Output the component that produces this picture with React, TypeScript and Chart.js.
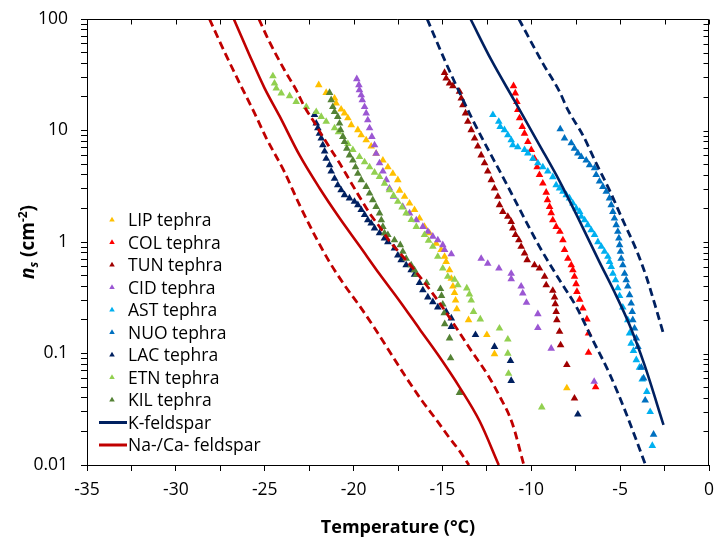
import React, { useEffect, useRef } from 'react';
import { Chart, registerables } from 'chart.js';

Chart.register(...registerables);

const FONT = '"Open Sans", "Noto Sans", sans-serif';

// ---- axis ticks ----
const xTicks = [-35, -32.5, -30, -27.5, -25, -22.5, -20, -17.5, -15, -12.5, -10, -7.5, -5, -2.5, 0];
const xTickLabels = ['-35', '', '-30', '', '-25', '', '-20', '', '-15', '', '-10', '', '-5', '', '0'];
const yMajorTicks = [0.01, 0.1, 1, 10, 100];
const yTickLabels = ['0.01', '0.1', '1', '10', '100'];
const yMinorFactors = [2, 3, 4, 5, 6, 7, 8, 9];

// ---- measured series: [temperature °C, ns cm^-2] ----
const LIP: [number, number][] = [
  [-21.96, 25.6], [-21.54, 21.8], [-21.07, 19.4], [-20.98, 17.5], [-20.7, 15.5], [-20.51, 14.3], [-20.32, 12.9],
  [-20.13, 11.2], [-19.76, 10.1], [-19.57, 9.1], [-19.29, 8.2], [-19.01, 7.2], [-18.73, 6.2], [-18.35, 5.4],
  [-18.07, 4.7], [-17.79, 4.1], [-17.51, 3.6], [-17.41, 2.9], [-17.13, 2.55], [-16.85, 2.22], [-16.57, 1.94],
  [-16.29, 1.63], [-16.01, 1.37], [-15.73, 1.2], [-15.35, 0.97], [-15.07, 0.85], [-14.88, 0.74], [-14.79, 0.665],
  [-14.6, 0.56], [-14.5, 0.47], [-14.41, 0.4], [-14.32, 0.35], [-14.26, 0.3], [-14.19, 0.25], [-13.53, 0.2],
  [-12.5, 0.147], [-12.07, 0.099], [-8.0, 0.049],
];
const COL: [number, number][] = [
  [-11.0, 25.1], [-10.9, 21.6], [-10.81, 18.1], [-10.76, 15.3], [-10.66, 12.9], [-10.51, 10.8], [-10.38, 9.4],
  [-10.19, 7.9], [-10.0, 6.7], [-9.82, 5.6], [-9.67, 4.7], [-9.54, 4.0], [-9.35, 3.36], [-9.16, 2.78], [-9.09, 2.38],
  [-8.97, 2.07], [-8.88, 1.82], [-8.79, 1.57], [-8.6, 1.37], [-8.39, 1.24], [-8.22, 1.04], [-8.13, 0.85],
  [-7.94, 0.71], [-7.75, 0.62], [-7.66, 0.56], [-7.57, 0.49], [-7.48, 0.42], [-7.43, 0.358], [-7.28, 0.305],
  [-7.1, 0.254], [-6.87, 0.203], [-6.78, 0.152], [-6.78, 0.102], [-6.38, 0.05],
];
const TUN: [number, number][] = [
  [-14.88, 33.0], [-14.79, 29.4], [-14.6, 26.5], [-14.41, 25.1], [-14.04, 22.3], [-13.94, 19.4], [-13.85, 16.9],
  [-13.7, 14.3], [-13.57, 12.0], [-13.38, 10.1], [-13.19, 8.5], [-13.01, 7.2], [-12.82, 6.0], [-12.63, 5.1],
  [-12.45, 4.3], [-12.25, 3.6], [-12.07, 3.03], [-11.88, 2.55], [-11.79, 2.15], [-11.6, 1.87], [-11.32, 1.69],
  [-11.13, 1.52], [-11.04, 1.33], [-10.89, 1.16], [-10.7, 1.04], [-10.57, 0.91], [-10.38, 0.79], [-10.23, 0.69],
  [-9.82, 0.62], [-9.54, 0.58], [-9.25, 0.49], [-9.16, 0.41], [-8.79, 0.366], [-8.69, 0.32], [-8.65, 0.278],
  [-8.6, 0.237], [-8.56, 0.2], [-8.41, 0.157], [-8.35, 0.119], [-8.0, 0.079], [-7.57, 0.0396],
];
const CID: [number, number][] = [
  [-19.82, 29.0], [-19.7, 25.6], [-19.67, 23.1], [-19.57, 20.8], [-19.51, 18.8], [-19.38, 16.3], [-19.29, 14.3],
  [-19.2, 12.4], [-19.1, 10.5], [-18.97, 8.8], [-18.82, 7.4], [-18.73, 6.2], [-18.54, 5.1], [-18.35, 4.3],
  [-18.16, 3.6], [-17.98, 3.03], [-17.75, 2.55], [-17.23, 2.07], [-16.85, 1.81], [-16.47, 1.57], [-16.1, 1.37],
  [-15.82, 1.24], [-15.54, 1.12], [-15.26, 1.04], [-14.98, 0.94], [-14.88, 0.85], [-14.5, 0.78], [-12.82, 0.71],
  [-12.45, 0.64], [-11.82, 0.58], [-11.13, 0.52], [-11.13, 0.466], [-10.57, 0.4], [-10.48, 0.347], [-10.27, 0.286],
  [-9.63, 0.226], [-9.63, 0.17], [-8.88, 0.111], [-6.46, 0.056],
];
const AST: [number, number][] = [
  [-12.16, 13.8], [-11.83, 12.0], [-11.75, 10.8], [-11.51, 10.1], [-11.32, 9.1], [-11.13, 8.2], [-11.04, 7.4],
  [-10.76, 7.1], [-10.38, 6.7], [-10.19, 6.25], [-9.91, 5.6], [-9.63, 5.1], [-9.35, 4.7], [-9.07, 4.3],
  [-8.79, 3.83], [-8.6, 3.24], [-8.41, 3.03], [-8.22, 2.83], [-8.03, 2.64], [-7.85, 2.47], [-7.66, 2.22],
  [-7.47, 2.0], [-7.28, 1.87], [-7.19, 1.69], [-7.0, 1.57], [-6.82, 1.42], [-6.63, 1.28], [-6.44, 1.16],
  [-6.25, 1.0], [-6.06, 0.91], [-5.88, 0.82], [-5.69, 0.74], [-5.6, 0.665], [-5.5, 0.6], [-5.41, 0.52],
  [-5.26, 0.456], [-5.13, 0.386], [-5.03, 0.329], [-4.85, 0.259], [-4.57, 0.2], [-4.47, 0.152], [-4.38, 0.123],
  [-4.25, 0.106], [-4.09, 0.0875], [-3.91, 0.075], [-3.76, 0.0587], [-3.5, 0.0454], [-3.31, 0.03], [-3.19, 0.0149],
];
const NUO: [number, number][] = [
  [-8.37, 10.3], [-8.13, 8.5], [-7.75, 7.7], [-7.57, 6.9], [-7.38, 6.25], [-7.19, 5.8], [-6.91, 5.4], [-6.72, 4.9],
  [-6.44, 4.6], [-6.35, 4.0], [-6.16, 3.5], [-5.97, 3.13], [-5.78, 2.83], [-5.6, 2.47], [-5.5, 2.15], [-5.41, 1.87],
  [-5.32, 1.63], [-5.22, 1.42], [-5.13, 1.24], [-5.07, 1.08], [-5.03, 0.94], [-4.98, 0.82], [-4.94, 0.71],
  [-4.85, 0.62], [-4.75, 0.52], [-4.66, 0.456], [-4.57, 0.4], [-4.47, 0.335], [-4.38, 0.282], [-4.32, 0.237],
  [-4.29, 0.2], [-4.19, 0.168], [-4.09, 0.137], [-4.0, 0.115], [-3.81, 0.075], [-3.68, 0.06], [-3.59, 0.038],
  [-3.12, 0.0188],
];
const LAC: [number, number][] = [
  [-22.2, 13.8], [-22.1, 11.6], [-22.01, 10.5], [-21.92, 9.4], [-21.82, 8.5], [-21.73, 7.4], [-21.63, 6.5],
  [-21.54, 5.6], [-21.35, 4.9], [-21.26, 4.3], [-21.07, 3.7], [-20.89, 3.24], [-20.7, 2.92], [-20.51, 2.64],
  [-20.23, 2.47], [-19.95, 2.3], [-19.76, 2.15], [-19.57, 1.94], [-19.38, 1.75], [-19.2, 1.57], [-19.01, 1.47],
  [-18.82, 1.33], [-18.54, 1.2], [-18.26, 1.08], [-18.07, 1.0], [-17.7, 0.88], [-17.51, 0.76], [-17.32, 0.69],
  [-17.04, 0.62], [-16.76, 0.56], [-16.57, 0.51], [-16.29, 0.43], [-16.1, 0.37], [-15.82, 0.32], [-15.54, 0.29],
  [-15.26, 0.26], [-14.79, 0.237], [-14.5, 0.207], [-14.5, 0.174], [-13.14, 0.147], [-12.07, 0.115],
  [-11.17, 0.086], [-11.13, 0.057], [-7.38, 0.0285],
];
const ETN: [number, number][] = [
  [-24.54, 30.8], [-24.45, 26.5], [-24.35, 23.9], [-24.07, 21.6], [-23.6, 20.4], [-23.23, 18.1], [-22.66, 16.3],
  [-22.1, 14.7], [-21.82, 13.3], [-21.54, 12.0], [-21.07, 10.5], [-20.85, 9.7], [-20.6, 8.8], [-20.32, 7.6],
  [-20.04, 6.7], [-19.67, 5.8], [-19.38, 5.2], [-19.1, 4.7], [-18.82, 4.2], [-18.54, 3.85], [-18.26, 3.35],
  [-17.98, 2.92], [-17.75, 2.6], [-17.51, 2.3], [-17.27, 2.05], [-17.04, 1.81], [-16.75, 1.58], [-16.47, 1.37],
  [-16.01, 1.16], [-15.78, 1.03], [-15.54, 0.91], [-15.26, 0.74], [-14.98, 0.58], [-14.7, 0.49], [-14.32, 0.46],
  [-14.13, 0.41], [-13.63, 0.385], [-13.48, 0.34], [-13.38, 0.3], [-13.25, 0.237], [-12.87, 0.203],
  [-11.79, 0.168], [-11.32, 0.134], [-11.32, 0.1], [-11.28, 0.066], [-9.41, 0.033],
];
const KIL: [number, number][] = [
  [-21.35, 21.8], [-21.26, 18.8], [-21.17, 16.3], [-21.07, 14.7], [-20.89, 13.3], [-20.79, 11.6], [-20.73, 10.1],
  [-20.6, 8.8], [-20.51, 7.9], [-20.38, 6.9], [-20.23, 6.0], [-20.04, 5.4], [-19.89, 4.7], [-19.76, 4.1],
  [-19.57, 3.6], [-19.29, 3.13], [-19.1, 2.73], [-18.92, 2.38], [-18.73, 2.07], [-18.54, 1.81], [-18.44, 1.57],
  [-18.35, 1.37], [-18.26, 1.2], [-18.07, 1.16], [-17.7, 1.04], [-17.37, 0.94], [-17.23, 0.82], [-17.04, 0.71],
  [-16.76, 0.62], [-16.57, 0.56], [-16.47, 0.51], [-15.89, 0.43], [-15.11, 0.38], [-15.05, 0.33], [-14.98, 0.276],
  [-14.9, 0.23], [-14.87, 0.184], [-14.6, 0.137], [-14.54, 0.091], [-14.04, 0.0445],
];

// ---- parameterisation curves: [temperature °C, ns cm^-2] ----
const K_MID: [number, number][] = [
  [-13.42, 100], [-12.25, 42.9], [-10.94, 18.4], [-9.54, 7.4], [-8.41, 3.52], [-7.28, 1.54], [-6.16, 0.66],
  [-5.32, 0.356], [-4.47, 0.18], [-3.63, 0.079], [-2.56, 0.0229],
];
const K_UP: [number, number][] = [
  [-10.7, 100], [-9.35, 40], [-8.41, 22.3], [-7.94, 15.3], [-7.1, 9.1], [-6.35, 5.1], [-5.6, 2.92], [-4.85, 1.57],
  [-4.09, 0.85], [-3.53, 0.49], [-3.06, 0.28], [-2.56, 0.15],
];
const K_LOW: [number, number][] = [
  [-15.86, 100], [-14.79, 40], [-13.29, 12.4], [-11.41, 3.36], [-9.54, 0.91], [-8.41, 0.456], [-7.47, 0.263],
  [-6.54, 0.132], [-5.6, 0.066], [-4.66, 0.029], [-3.57, 0.01],
];
const NACA_MID: [number, number][] = [
  [-26.74, 100], [-25.86, 47.6], [-25.01, 24.0], [-24.17, 13.5], [-23.04, 6.0], [-21.92, 3.05], [-20.79, 1.64],
  [-19.66, 0.92], [-18.54, 0.516], [-17.41, 0.296], [-16.29, 0.166], [-15.16, 0.093], [-14.04, 0.05],
  [-12.91, 0.0248], [-11.83, 0.01],
];
const NACA_UP: [number, number][] = [
  [-25.33, 100], [-24.73, 62.2], [-23.89, 34.9], [-23.23, 23.1], [-22.76, 16.3], [-22.29, 12.4], [-21.73, 8.8],
  [-21.26, 6.7], [-20.79, 5.1], [-20.23, 3.6], [-19.67, 2.55], [-19.1, 1.81], [-18.54, 1.37], [-17.98, 1.02],
  [-17.41, 0.8], [-16.67, 0.585], [-15.95, 0.42], [-15.16, 0.284], [-14.26, 0.174], [-13.36, 0.105],
  [-12.39, 0.062], [-11.79, 0.0416], [-11.07, 0.0237], [-10.42, 0.01],
];
const NACA_LOW: [number, number][] = [
  [-28.11, 100], [-27.26, 50.6], [-26.42, 26.7], [-25.58, 14.4], [-24.92, 8.6], [-23.89, 4.25], [-23.04, 2.15],
  [-22.2, 1.16], [-21.35, 0.66], [-20.51, 0.41], [-19.66, 0.267], [-18.82, 0.169], [-18.02, 0.107],
  [-17.13, 0.064], [-16.14, 0.0375], [-15.33, 0.0253], [-14.64, 0.0178], [-14.04, 0.0134], [-13.51, 0.01],
];

const scatterSeries = [
  { label: 'LIP tephra', color: '#FFC000', data: LIP },
  { label: 'COL tephra', color: '#FF0000', data: COL },
  { label: 'TUN tephra', color: '#A00000', data: TUN },
  { label: 'CID tephra', color: '#9B57D3', data: CID },
  { label: 'AST tephra', color: '#00B0F0', data: AST },
  { label: 'NUO tephra', color: '#0070C0', data: NUO },
  { label: 'LAC tephra', color: '#002060', data: LAC },
  { label: 'ETN tephra', color: '#92D050', data: ETN },
  { label: 'KIL tephra', color: '#548235', data: KIL },
];

const lineSeries = [
  { label: 'K-feldspar', color: '#002060', data: K_MID, dashed: false, legend: true },
  { label: 'K-feldspar upper', color: '#002060', data: K_UP, dashed: true, legend: false },
  { label: 'K-feldspar lower', color: '#002060', data: K_LOW, dashed: true, legend: false },
  { label: 'Na-/Ca- feldspar', color: '#C00000', data: NACA_MID, dashed: false, legend: true },
  { label: 'Na-/Ca- feldspar upper', color: '#C00000', data: NACA_UP, dashed: true, legend: false },
  { label: 'Na-/Ca- feldspar lower', color: '#C00000', data: NACA_LOW, dashed: true, legend: false },
];

function yTickValues(): number[] {
  const out: number[] = [];
  yMajorTicks.forEach((m, i) => {
    out.push(m);
    if (i < yMajorTicks.length - 1) yMinorFactors.forEach((f) => out.push(m * f));
  });
  return out;
}

function tri(ctx: CanvasRenderingContext2D, x: number, y: number, r: number, color: string) {
  ctx.beginPath();
  ctx.moveTo(x, y - r);
  ctx.lineTo(x + 0.866 * r, y + 0.5 * r);
  ctx.lineTo(x - 0.866 * r, y + 0.5 * r);
  ctx.closePath();
  ctx.fillStyle = color;
  ctx.fill();
}

const framePlugin = {
  id: 'frame',
  afterDraw(chart: any) {
    const { ctx, chartArea } = chart;
    const { left, right, top, bottom } = chartArea;
    const xs = chart.scales.x;
    const ys = chart.scales.y;
    ctx.save();
    ctx.strokeStyle = '#000';
    ctx.lineWidth = 1;
    const t = Math.round(top) + 0.5;
    const r = Math.round(right) - 0.5;
    ctx.beginPath();
    ctx.moveTo(left, t);
    ctx.lineTo(r, t);
    ctx.lineTo(r, bottom);
    ctx.stroke();
    ctx.beginPath();
    xTicks.forEach((v) => {
      const px = Math.round(xs.getPixelForValue(v)) + 0.5;
      ctx.moveTo(px, t);
      ctx.lineTo(px, t + 5);
    });
    yTickValues().forEach((v) => {
      const py = Math.round(ys.getPixelForValue(v)) + 0.5;
      ctx.moveTo(r, py);
      ctx.lineTo(r - 5, py);
    });
    ctx.stroke();
    ctx.restore();
  },
};

const legendPlugin = {
  id: 'insideLegend',
  afterDatasetsDraw(chart: any) {
    const ctx: CanvasRenderingContext2D = chart.ctx;
    const entries = [
      ...scatterSeries.map((s) => ({ label: s.label, color: s.color, kind: 'marker' })),
      ...lineSeries.filter((s) => s.legend).map((s) => ({ label: s.label, color: s.color, kind: 'line' })),
    ];
    ctx.save();
    ctx.font = `17.5px ${FONT}`;
    ctx.textAlign = 'left';
    ctx.textBaseline = 'alphabetic';
    entries.forEach((e, i) => {
      const cy = 220 + i * 22.5;
      if (e.kind === 'marker') {
        tri(ctx, 112, cy, 3.2, e.color);
      } else {
        ctx.strokeStyle = e.color;
        ctx.lineWidth = 3;
        ctx.beginPath();
        ctx.moveTo(99, cy);
        ctx.lineTo(127, cy);
        ctx.stroke();
      }
      ctx.fillStyle = '#000';
      ctx.fillText(e.label, 128, cy + 6.3);
    });
    ctx.restore();
  },
};

const yTitlePlugin = {
  id: 'yTitle',
  afterDraw(chart: any) {
    const ctx: CanvasRenderingContext2D = chart.ctx;
    const area = chart.chartArea;
    const parts = [
      { t: 'n', f: `italic bold 19px ${FONT}`, dy: 0 },
      { t: 's', f: `italic bold 12px ${FONT}`, dy: 4 },
      { t: ' (cm', f: `bold 19px ${FONT}`, dy: 0 },
      { t: '-2', f: `bold 12px ${FONT}`, dy: -7 },
      { t: ')', f: `bold 19px ${FONT}`, dy: 0 },
    ];
    ctx.save();
    ctx.translate(27, (area.top + area.bottom) / 2);
    ctx.rotate(-Math.PI / 2);
    let total = 0;
    parts.forEach((p) => {
      ctx.font = p.f;
      total += ctx.measureText(p.t).width;
    });
    let x = -total / 2;
    ctx.fillStyle = '#000';
    ctx.textBaseline = 'alphabetic';
    ctx.textAlign = 'left';
    parts.forEach((p) => {
      ctx.font = p.f;
      ctx.fillText(p.t, x, 6.5 + p.dy);
      x += ctx.measureText(p.t).width;
    });
    ctx.restore();
  },
};

export default function App() {
  const ref = useRef<HTMLCanvasElement>(null);

  useEffect(() => {
    const canvas = ref.current;
    if (!canvas) return;

    const datasets: any[] = [];
    lineSeries.forEach((s) => {
      datasets.push({
        label: s.label,
        data: s.data.map(([x, y]) => ({ x, y })),
        showLine: true,
        borderColor: s.color,
        borderWidth: s.dashed ? 2.8 : 2.6,
        borderDash: s.dashed ? [8, 4.5] : [],
        borderCapStyle: 'butt',
        pointRadius: 0,
        pointHoverRadius: 0,
        cubicInterpolationMode: 'monotone',
        fill: false,
        order: 0,
      });
    });
    scatterSeries.forEach((s, i) => {
      datasets.push({
        label: s.label,
        data: s.data.map(([x, y]) => ({ x, y })),
        showLine: false,
        pointStyle: 'triangle',
        pointRadius: 4.4,
        pointHoverRadius: 4.4,
        pointBackgroundColor: s.color,
        pointBorderColor: s.color,
        pointBorderWidth: 0,
        order: scatterSeries.length - i,
      });
    });

    const chart = new Chart(canvas, {
      type: 'scatter',
      data: { datasets },
      options: {
        responsive: false,
        animation: false,
        devicePixelRatio: 1,
        events: [],
        layout: { padding: { left: 0, right: 7, top: 19, bottom: 0 } },
        plugins: {
          legend: { display: false },
          tooltip: { enabled: false },
        },
        scales: {
          x: {
            type: 'linear',
            min: -35,
            max: 0,
            afterBuildTicks: (scale: any) => {
              scale.ticks = xTicks.map((v) => ({ value: v }));
            },
            afterFit: (scale: any) => {
              scale.height = 76;
              scale.paddingLeft = 0;
              scale.paddingRight = 0;
            },
            ticks: {
              autoSkip: false,
              maxRotation: 0,
              padding: 9,
              color: '#000',
              font: { family: FONT, size: 17.5 },
              callback: (value: any) => {
                const i = xTicks.findIndex((t) => Math.abs(t - Number(value)) < 1e-6);
                return i >= 0 ? xTickLabels[i] : '';
              },
            },
            grid: {
              drawOnChartArea: false,
              drawTicks: true,
              tickLength: 6,
              color: '#000',
              tickColor: '#000',
              lineWidth: 1,
            },
            border: { display: true, color: '#000', width: 1 },
            title: {
              display: true,
              text: 'Temperature (°C)',
              color: '#000',
              font: { family: FONT, size: 18, weight: 'bold' },
              padding: { top: 0, bottom: 2 },
            },
          },
          y: {
            type: 'logarithmic',
            min: 0.01,
            max: 100,
            afterBuildTicks: (scale: any) => {
              scale.ticks = yTickValues().map((v) => ({ value: v }));
            },
            afterFit: (scale: any) => {
              scale.width = 87;
              scale.paddingTop = 0;
              scale.paddingBottom = 0;
            },
            ticks: {
              autoSkip: false,
              padding: 13,
              color: '#000',
              font: { family: FONT, size: 17.5 },
              callback: (value: any) => {
                const v = Number(value);
                const i = yMajorTicks.findIndex((m) => Math.abs(m - v) / m < 1e-6);
                return i >= 0 ? yTickLabels[i] : '';
              },
            },
            grid: {
              drawOnChartArea: false,
              drawTicks: true,
              tickLength: 6,
              color: '#000',
              tickColor: '#000',
              lineWidth: 1,
            },
            border: { display: true, color: '#000', width: 1 },
          },
        },
      } as any,
      plugins: [legendPlugin, yTitlePlugin, framePlugin],
    });

    return () => chart.destroy();
  }, []);

  return (
    <div style={{ position: 'absolute', left: 0, top: 0, width: 716, height: 541, background: '#fff' }}>
      <canvas ref={ref} width={716} height={541} style={{ display: 'block', width: 716, height: 541 }} />
    </div>
  );
}
